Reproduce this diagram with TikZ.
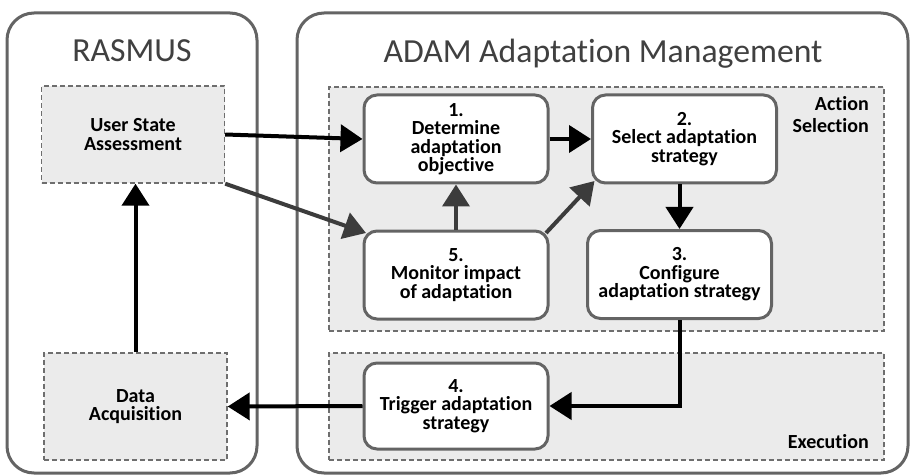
\documentclass[tikz,border=0pt]{standalone}
\usepackage{fontspec}
\setmainfont{Carlito}[Ligatures={NoCommon}]
\usetikzlibrary{arrows.meta,calc}
\definecolor{frame}{HTML}{646464}
\definecolor{zone}{HTML}{EBEBEB}
\definecolor{zoneline}{HTML}{6E6E6E}
\definecolor{titlegray}{HTML}{404040}
\definecolor{softarrow}{HTML}{3C3C3C}
\begin{document}
\begin{tikzpicture}[x=1pt,y=-1pt,
  panel/.style={draw=frame,line width=3pt,rounded corners=27pt,fill=white,inner sep=0pt},
  zonebox/.style={draw=zoneline,line width=1.4pt,dash pattern=on 5pt off 3pt,fill=zone,inner sep=0pt},
  boxfont/.style={font=\fontsize{20}{18.5}\selectfont\bfseries},
  stepbox/.style={draw=frame,line width=3pt,rounded corners=13pt,fill=white,
    minimum width=184pt,minimum height=88pt,inner sep=0pt,align=center,boxfont},
  sourcebox/.style={zonebox,minimum width=183pt,align=center,boxfont},
  paneltitle/.style={anchor=base,text=titlegray,font=\fontsize{33.7}{38}\selectfont},
  zonelabel/.style={inner sep=0pt,align=right,font=\fontsize{20}{22}\selectfont\bfseries},
  flow/.style={line width=4pt,-{Triangle[length=22pt,width=27pt]}},
  softflow/.style={flow,draw=softarrow,-{Triangle[length=22pt,width=27pt,fill=softarrow]}}]
\useasboundingbox (0,0) rectangle (911,476);

% outer panels
\node[panel,minimum width=250pt,minimum height=460pt] (rasmus) at (132,243) {};
\node[panel,minimum width=611pt,minimum height=460pt] (adam) at (602.5,243) {};
\node[paneltitle] (rasmustitle) at (132,62) {RASMUS};
\node[paneltitle] (adamtitle) at (603,63) {ADAM Adaptation Management};

% dashed zones
\node[zonebox,minimum width=555pt,minimum height=244pt] (actsel) at (606.5,209) {};
\node[zonebox,minimum width=555pt,minimum height=107pt] (exec) at (606.5,406.5) {};
\node[zonelabel,anchor=base east] (actlabel) at (869,133) {Action\\Selection};
\node[zonelabel,anchor=base east] (execlabel) at (869,448) {Execution};

% RASMUS components
\node[sourcebox,minimum height=97pt] (usa) at (133,134.5) {User State\\Assessment};
\node[sourcebox,minimum height=107pt] (da) at (135.5,406.5) {Data\\Acquisition};

% adaptation steps
\node[stepbox] (b1) at (456,139) {1.\\Determine\\adaptation\\objective};
\node[stepbox] (b2) at (684.5,139) {2.\\Select adaptation\\strategy};
\node[stepbox] (b5) at (456,275) {5.\\Monitor impact\\of adaptation};
\node[stepbox] (b3) at (679.5,274.5) {3.\\Configure\\adaptation strategy};
\node[stepbox,minimum height=86pt] (b4) at (456,406) {4.\\Trigger adaptation\\strategy};

% connectors
\draw[flow] (usa.east) -- (b1.west);
\draw[flow] (b1.east) -- (b2.west);
\draw[softflow] (usa.south east) -- ($(b5.north west)+(3.5,3.5)$);
\draw[softflow] (b5.north) -- (b1.south);
\draw[softflow] ($(b5.north east)+(-3.5,3.5)$) -- ($(b2.south west)+(3.5,-3.5)$);
\draw[flow] (b3.north |- b2.south) -- (b3.north);
\draw[flow] (b3.south) |- (b4.east);
\draw[flow] (b4.west) -- (da.east);
\draw[flow] (da.north) -- (da.north |- usa.south);
\end{tikzpicture}
\end{document}
